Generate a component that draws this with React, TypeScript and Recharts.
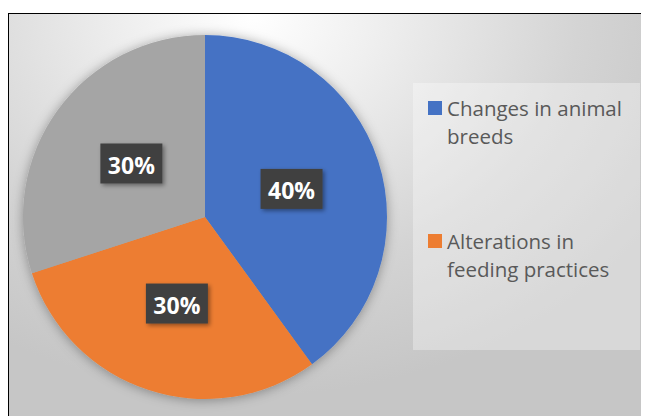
import React from "react";
import { PieChart, Pie, Cell, Legend } from "recharts";

const categories = ["Changes in animal breeds", "Alterations in feeding practices", ""];
const shares = [40, 30, 30];
const colors = ["#4472C4", "#ED7D31", "#A5A5A5"];

const data = categories.map((name, i) => ({ name, value: shares[i] }));

const RAD = Math.PI / 180;

const renderLabel = (props: any) => {
  const { cx, cy, midAngle, outerRadius, percent } = props;
  const r = outerRadius * 0.5;
  const x = cx + r * Math.cos(-midAngle * RAD);
  const y = cy + r * Math.sin(-midAngle * RAD);
  const w = 62;
  const h = 40;
  return (
    <g>
      <rect x={x - w / 2} y={y - h / 2} width={w} height={h} fill="#404040" filter="url(#lblShadow)" />
      <text
        x={x}
        y={y + 1}
        fill="#ffffff"
        textAnchor="middle"
        dominantBaseline="central"
        style={{ fontFamily: "'Open Sans', sans-serif", fontWeight: 700, fontSize: 23 }}
      >
        {`${Math.round(percent * 100)}%`}
      </text>
    </g>
  );
};

const renderLegend = (props: any) => {
  const items = (props.payload || [])
    .filter((p: any) => p.value)
    .slice()
    .sort((a: any, b: any) => categories.indexOf(a.value) - categories.indexOf(b.value));
  return (
    <div
      style={{
        width: 227,
        height: 267,
        background: "rgba(255,255,255,0.32)",
        boxSizing: "border-box",
        paddingTop: 11,
        fontFamily: "'Open Sans', sans-serif",
        fontSize: 20.5,
        lineHeight: "28px",
        color: "#595959",
      }}
    >
      {items.map((p: any, i: number) => (
        <div key={i} style={{ position: "relative", paddingLeft: 34, width: 184, marginTop: i === 0 ? 0 : 77 }}>
          <span
            style={{
              position: "absolute",
              left: 15,
              top: 7,
              width: 14,
              height: 14,
              background: p.color,
            }}
          />
          {p.value}
        </div>
      ))}
    </div>
  );
};

export default function App() {
  return (
    <div style={{ position: "relative", width: 641, height: 408 }}>
      <svg width={0} height={0} style={{ position: "absolute" }}>
        <defs>
          <filter id="pieShadow" x="-20%" y="-20%" width="140%" height="140%">
            <feDropShadow dx="0" dy="1" stdDeviation="6" floodColor="#000" floodOpacity="0.35" />
          </filter>
          <filter id="lblShadow" x="-30%" y="-30%" width="160%" height="160%">
            <feDropShadow dx="2" dy="2" stdDeviation="2" floodColor="#000" floodOpacity="0.4" />
          </filter>
        </defs>
      </svg>
      <style>{`.pie-wrap .recharts-pie { filter: url(#pieShadow); }`}</style>
      <div
        className="pie-wrap"
        style={{
          position: "absolute",
          left: -1,
          top: 5,
          width: 642,
          height: 403,
          overflow: "hidden",
          borderTop: "1px solid #000",
          borderLeft: "2px solid #000",
          boxSizing: "border-box",
          background:
            "radial-gradient(ellipse 75% 95% at 38% 0%, #ffffff 0%, #efefef 26%, #d4d4d4 68%, #c6c6c6 100%)",
        }}
      >
        <div style={{ position: "absolute", left: -1, top: 0 }}>
          <PieChart width={660} height={420} margin={{ top: 0, right: 0, bottom: 0, left: 0 }}>
            <Pie
              data={data}
              dataKey="value"
              nameKey="name"
              cx={197}
              cy={203}
              outerRadius={182}
              startAngle={90}
              endAngle={-270}
              stroke="none"
              label={renderLabel}
              labelLine={false}
              isAnimationActive={false}
            >
              {data.map((_, i) => (
                <Cell key={i} fill={colors[i]} />
              ))}
            </Pie>
            <Legend
              content={renderLegend}
              wrapperStyle={{ position: "absolute", left: 405, top: 69, width: 227, height: 267 }}
            />
          </PieChart>
        </div>
      </div>
    </div>
  );
}
